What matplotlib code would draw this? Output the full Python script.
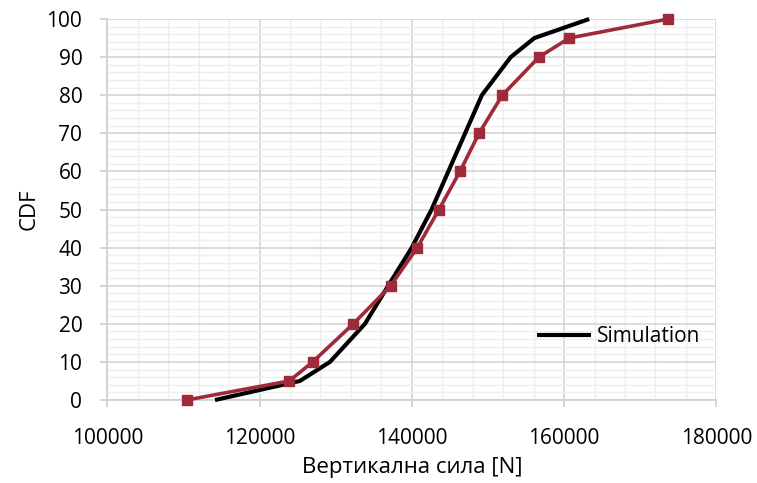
import matplotlib
matplotlib.use("Agg")
import matplotlib.pyplot as plt
from matplotlib.ticker import MultipleLocator

plt.rcParams['font.family'] = ['Open Sans', 'DejaVu Sans']

# Simulation (black)
sim_force = [114150, 125300, 129250, 133850, 136900, 140000, 142600, 144800, 147000, 149200, 153000, 156100, 163300]
sim_cdf = [0, 5, 10, 20, 30, 40, 50, 60, 70, 80, 90, 95, 100]

# Measured (red, square markers)
meas_force = [110430, 123910, 126980, 132320, 137230, 140720, 143570, 146330, 148830, 151890, 156700, 160690, 173700]
meas_cdf = [0, 5, 10, 20, 30, 40, 50, 60, 70, 80, 90, 95, 100]

x_ticks = [100000, 120000, 140000, 160000, 180000]
y_ticks = [0, 10, 20, 30, 40, 50, 60, 70, 80, 90, 100]

fig = plt.figure(figsize=(7.57, 4.83), dpi=100)
ax = fig.add_axes([107.3/757, 1-400/483, (716.3-107.3)/757, (400-19)/483])

ax.set_xlim(100000, 180000)
ax.set_ylim(0, 100)
ax.set_xticks(x_ticks)
ax.set_yticks(y_ticks)
ax.xaxis.set_minor_locator(MultipleLocator(4000))
ax.yaxis.set_minor_locator(MultipleLocator(2))
ax.grid(which='minor', color='#efefef', linewidth=1.0, zorder=0)
ax.grid(which='major', color='#d4d4d4', linewidth=1.2, zorder=0)
ax.set_axisbelow(True)

for s in ['top', 'right']:
    ax.spines[s].set_visible(False)
for s in ['left', 'bottom']:
    ax.spines[s].set_color('#d0d0d0')
    ax.spines[s].set_linewidth(1.2)
ax.tick_params(which='major', color='#d0d0d0', length=5, width=1.2, labelsize=15, labelcolor='black')
ax.tick_params(axis='x', which='major', pad=15)
ax.tick_params(axis='y', which='major', pad=13)
ax.tick_params(which='minor', length=0)

ax.plot(sim_force, sim_cdf, color='black', linewidth=3.0, solid_capstyle='butt', label='Simulation', zorder=3, clip_on=False)
ax.plot(meas_force, meas_cdf, color='#9E2A3A', linewidth=2.6, marker='s', markersize=6.5, label='_nolegend_', zorder=4, clip_on=False)

ax.set_xlabel('Вертикална сила [N]', fontsize=16, labelpad=6)
ax.set_ylabel('CDF', fontsize=16, labelpad=5)

leg = ax.legend(loc='lower right', bbox_to_anchor=(0.995, 0.105), frameon=False, fontsize=15,
                handlelength=2.6, handletextpad=0.3, borderaxespad=0.2)

fig.savefig('out.png', dpi=100)
